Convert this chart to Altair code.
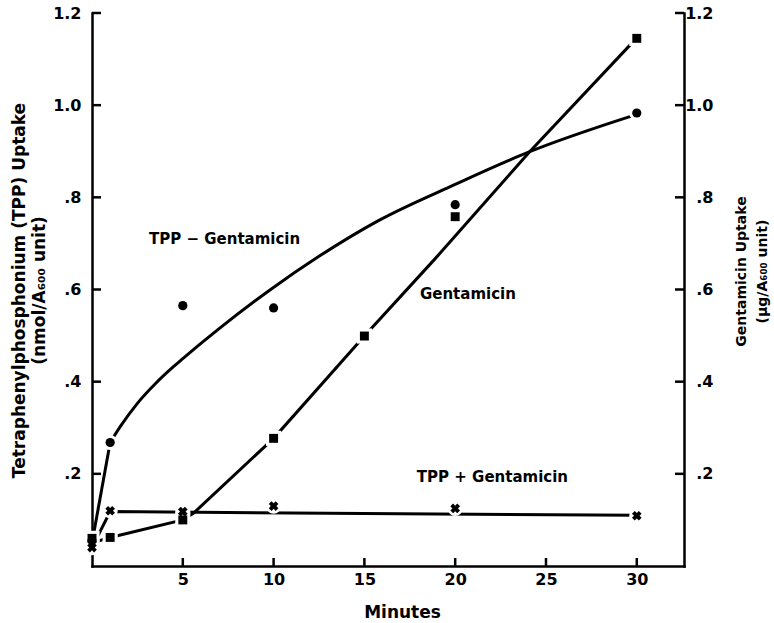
import altair as alt
import pandas as pd

tpp_minus_min = [0, 1, 5, 10, 20, 30]
tpp_minus_val = [0.055, 0.268, 0.565, 0.560, 0.784, 0.983]
gent_min = [0, 1, 5, 10, 15, 20, 30]
gent_val = [0.060, 0.062, 0.100, 0.277, 0.499, 0.758, 1.145]
tpp_plus_min = [0, 1, 5, 10, 20, 30]
tpp_plus_val = [0.040, 0.120, 0.118, 0.130, 0.125, 0.109]

# ---- hand-drawn fitted curves ----
tpp_minus_start_min = [0, 1]
tpp_minus_start_val = [0.05, 0.268]
tpp_minus_curve_min = [1, 1.6, 2.5, 3.5, 4.5, 5, 7, 9.8, 12.5, 15.8, 20, 24.1, 30]
tpp_minus_curve_val = [0.268, 0.305, 0.353, 0.396, 0.433, 0.45, 0.515, 0.599,
                       0.672, 0.75, 0.828, 0.899, 0.98]
gent_curve_min = [0, 1, 5, 5.6, 10, 15, 18.9, 24.1, 30]
gent_curve_val = [0.05, 0.062, 0.100, 0.115, 0.277, 0.499, 0.667, 0.899, 1.146]
tpp_plus_curve_min = [0, 1, 30]
tpp_plus_curve_val = [0.04, 0.118, 0.110]

# ---- annotations ----
label_text = ["TPP \u2212 Gentamicin", "Gentamicin", "TPP + Gentamicin"]
label_min = [7.3, 20.7, 22.05]
label_val = [0.709, 0.59, 0.194]

y_ticks = [0.2, 0.4, 0.6, 0.8, 1.0, 1.2]
x_ticks = [5, 10, 15, 20, 25, 30]

W, H = 592, 553

def df(xs, ys):
    return pd.DataFrame({"m": xs, "v": ys})

xs = alt.Scale(domain=[0, 32.6], nice=False, zero=False)
ys = alt.Scale(domain=[0, 1.2], nice=False, zero=False)

label_expr = ("datum.value >= 1 ? format(datum.value, '.1f') : "
              "replace(format(datum.value, '.1f'), '0.', '.')")

x_axis = alt.Axis(values=x_ticks, title="Minutes", labelPadding=5,
                  titleX=310, titleY=46, titleAlign="center", titleBaseline="middle")
left_axis = alt.Axis(orient="left", values=y_ticks, labelExpr=label_expr, labelPadding=11,
                     title=["Tetraphenylphosphonium (TPP) Uptake", "(nmol/A\u2086\u2080\u2080 unit)"],
                     titleAngle=270, titleX=-73, titleY=277, titleAlign="center",
                     titleBaseline="middle", titleLineHeight=20)
right_axis = alt.Axis(orient="right", values=y_ticks, labelExpr=label_expr,
                      labelAlign="right", labelPadding=29,
                      title=["Gentamicin Uptake", "(\u00b5g/A\u2086\u2080\u2080 unit)"],
                      titleAngle=270, titleX=57, titleY=258, titleAlign="center",
                      titleBaseline="middle", titleLineHeight=21, titleFontSize=14)

X = alt.X("m:Q", scale=xs, axis=x_axis)
Y = alt.Y("v:Q", scale=ys, axis=left_axis)

line_style = dict(color="black", strokeWidth=3)

start_minus = alt.Chart(df(tpp_minus_start_min, tpp_minus_start_val)).mark_line(
    **line_style).encode(x=X, y=Y)
curve_minus = alt.Chart(df(tpp_minus_curve_min, tpp_minus_curve_val)).mark_line(
    interpolate="monotone", **line_style).encode(x=X, y=Y)
curve_gent = alt.Chart(df(gent_curve_min, gent_curve_val)).mark_line(**line_style).encode(x=X, y=Y)
curve_plus = alt.Chart(df(tpp_plus_curve_min, tpp_plus_curve_val)).mark_line(**line_style).encode(x=X, y=Y)

def halo(data, shape, size, angle=0):
    return alt.Chart(data).mark_point(filled=True, color="white", opacity=1,
                                      shape=shape, size=size, angle=angle).encode(x=X, y=Y)

def marker(data, shape, size, angle=0):
    return alt.Chart(data).mark_point(filled=True, color="black", opacity=1,
                                      shape=shape, size=size, angle=angle).encode(x=X, y=Y)

d_minus = df(tpp_minus_min, tpp_minus_val)
d_gent = df(gent_min, gent_val)
d_plus = df(tpp_plus_min, tpp_plus_val)

halos = [halo(d_minus, "circle", 230), halo(d_gent, "square", 230), halo(d_plus, "circle", 230)]
markers = [marker(d_minus, "circle", 85), marker(d_gent, "square", 80),
           marker(d_plus, "cross", 95, 45)]

labels = alt.Chart(pd.DataFrame({"t": label_text, "m": label_min, "v": label_val})).mark_text(
    font="DejaVu Sans", fontWeight="bold", fontSize=15, color="black",
    align="center", baseline="middle").encode(x=X, y=Y, text="t:N")

left_ticks = alt.Chart(pd.DataFrame({"v": y_ticks})).mark_rule(
    color="black", strokeWidth=2.5).encode(y=Y, x=alt.value(0), x2=alt.value(9))
bottom_ticks = alt.Chart(pd.DataFrame({"m": x_ticks})).mark_rule(
    color="black", strokeWidth=2.5).encode(x=X, y=alt.value(H - 8), y2=alt.value(H))
right_ticks = alt.Chart(pd.DataFrame({"v": y_ticks})).mark_rule(
    color="black", strokeWidth=2.5).encode(
    y=alt.Y("v:Q", scale=ys, axis=right_axis), x=alt.value(W - 9), x2=alt.value(W))

inner = alt.layer(left_ticks, bottom_ticks, start_minus, curve_minus, curve_gent, curve_plus,
                  *halos, *markers, labels)

chart = alt.layer(inner, right_ticks).resolve_scale(y="independent").properties(
    width=W, height=H,
    padding={"left": 92, "top": 13, "right": 90, "bottom": 57},
    autosize=alt.AutoSizeParams(type="none"),
    background="white",
).configure_view(stroke=None).configure_axis(
    domainColor="black", domainWidth=2.5, domainCap="square", ticks=False, grid=False,
    labelFont="DejaVu Sans", labelFontWeight="bold", labelFontSize=16, labelColor="black",
    titleFont="DejaVu Sans", titleFontWeight="bold", titleFontSize=17, titleColor="black",
)

chart.save("out.html", embed_options={"renderer": "svg", "actions": False})
